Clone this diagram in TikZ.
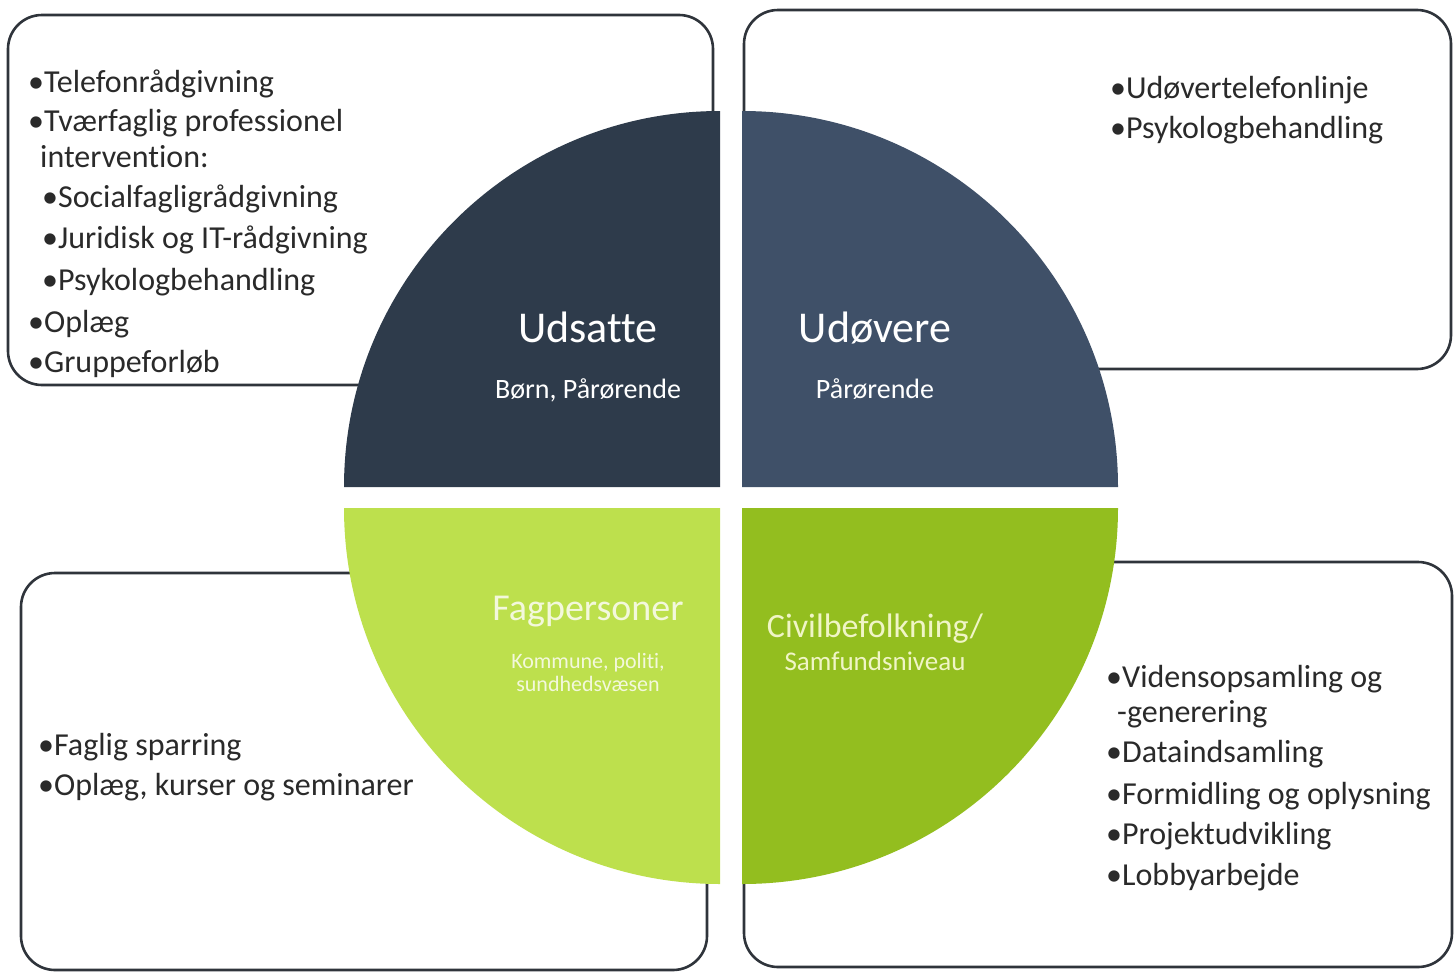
\documentclass[tikz,border=0pt]{standalone}
\usepackage{fontspec}
\setmainfont{Carlito}[Ligatures=NoCommon]
\usetikzlibrary{calc}

\definecolor{udsattefill}{HTML}{2E3B4B}
\definecolor{udoverefill}{HTML}{3F5068}
\definecolor{fagfill}{HTML}{BDE04D}
\definecolor{civilfill}{HTML}{93BE1F}
\definecolor{boxline}{HTML}{2F343B}
\definecolor{listtext}{HTML}{2A2A2A}
\definecolor{fagtext}{HTML}{F3F8DC}
\definecolor{civiltext}{HTML}{F0F5C6}

\tikzset{
  panel/.style={draw=boxline, line width=2.6pt, fill=white, rounded corners=34pt},
  item/.style={anchor=base west, inner sep=0pt, text=listtext, font=\fontsize{32}{32}\selectfont},
  title/.style={anchor=base, inner sep=0pt, text=white, font=\fontsize{44}{44}\selectfont},
  sub/.style={anchor=base, inner sep=0pt, text=white, font=\fontsize{28}{28}\selectfont},
}

\begin{document}
\begin{tikzpicture}[x=1pt, y=-1pt]
    \useasboundingbox (0,0) rectangle (1456,972);

    \coordinate (C1) at (720,487);
    \coordinate (C2) at (742,487);
    \coordinate (C3) at (720,508);
    \coordinate (C4) at (742,508);

    % panels behind the circle
    \draw [panel] (8,15) rectangle (713,385);
    \draw [panel] (744,10) rectangle (1451,369);
    \draw [panel] (21,573) rectangle (707,970);
    \draw [panel] (744,562) rectangle (1452,967);

    % the four quarters
    \fill [udsattefill] (C1) -- ++(-376,0) arc [start angle=180, end angle=270, radius=376] -- cycle;
    \fill [udoverefill] (C2) -- ++(376,0) arc [start angle=0, end angle=-90, radius=376] -- cycle;
    \fill [fagfill] (C3) -- ++(-376,0) arc [start angle=180, end angle=90, radius=376] -- cycle;
    \fill [civilfill] (C4) -- ++(376,0) arc [start angle=0, end angle=90, radius=376] -- cycle;

    \node [title] (udsatte) at (588,342) {Udsatte};
    \node [sub] (udsattesub) at (588,398) {Børn, Pårørende};
    \node [title] (udovere) at (875,342) {Udøvere};
    \node [sub] (udoveresub) at (875,398) {Pårørende};
    \node [title, text=fagtext, font=\fontsize{38}{38}\selectfont] (fag) at (588,620) {Fagpersoner};
    \node [sub, text=fagtext, font=\fontsize{22}{22}\selectfont] (fagsub1) at (588,668) {Kommune, politi,};
    \node [sub, text=fagtext, font=\fontsize{22}{22}\selectfont] (fagsub2) at (588,691) {sundhedsvæsen};
    \node [title, text=civiltext, font=\fontsize{34}{34}\selectfont] (civil) at (875,637) {Civilbefolkning/};
    \node [sub, text=civiltext, font=\fontsize{27}{27}\selectfont] (civilsub) at (875,670) {Samfundsniveau};

    % top left list
    \node [item] (tl1) at (28,92) {•Telefonrådgivning};
    \node [item] (tl2) at (28,131) {•Tværfaglig professionel};
    \node [item] (tl3) at (40,167) {intervention:};
    \node [item] (tl4) at (42,207) {•Socialfagligrådgivning};
    \node [item] (tl5) at (42,248) {•Juridisk og IT-rådgivning};
    \node [item] (tl6) at (42,290) {•Psykologbehandling};
    \node [item] (tl7) at (28,332) {•Oplæg};
    \node [item] (tl8) at (28,372) {•Gruppeforløb};

    % top right list
    \node [item] (tr1) at (1110,98) {•Udøvertelefonlinje};
    \node [item] (tr2) at (1110,138) {•Psykologbehandling};

    % bottom left list
    \node [item] (bl1) at (38,755) {•Faglig sparring};
    \node [item] (bl2) at (38,795) {•Oplæg, kurser og seminarer};

    % bottom right list
    \node [item] (br1) at (1106,687) {•Vidensopsamling og};
    \node [item] (br2) at (1117,722) {-generering};
    \node [item] (br3) at (1106,762) {•Dataindsamling};
    \node [item] (br4) at (1106,804) {•Formidling og oplysning};
    \node [item] (br5) at (1106,844) {•Projektudvikling};
    \node [item] (br6) at (1106,885) {•Lobbyarbejde};
\end{tikzpicture}
\end{document}
